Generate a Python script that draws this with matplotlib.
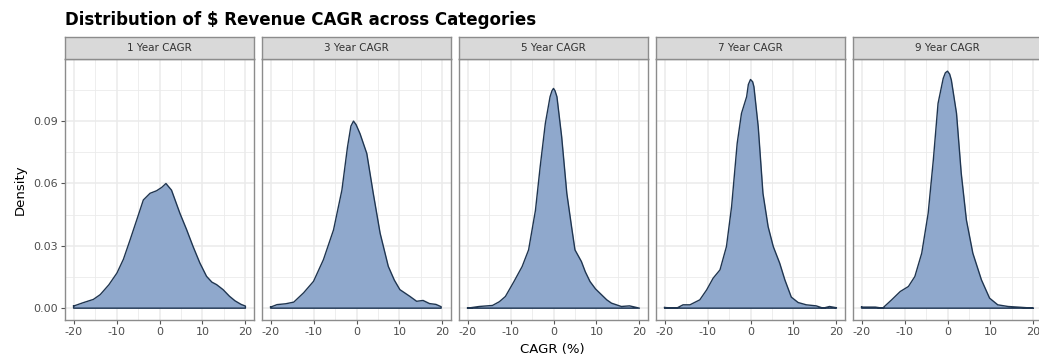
import numpy as np
import matplotlib.pyplot as plt

# facet titles
panels = ['1 Year CAGR', '3 Year CAGR', '5 Year CAGR', '7 Year CAGR', '9 Year CAGR']

# density curves (x = CAGR %, y = density)
x1 = [-20, -17.8, -15.4, -13.8, -11.8, -9.9, -8.4, -6.85, -5.3, -3.76, -2.2, -0.7, 0.5, 1.5, 2.8,
      4.75, 6.3, 7.8, 9.4, 10.95, 12.2, 13.3, 14.8, 16.3, 17.6, 19.0, 20]
y1 = [0.001, 0.0026, 0.0042, 0.0065, 0.0112, 0.0169, 0.0235, 0.0328, 0.0424, 0.052, 0.0552,
      0.0564, 0.058, 0.0599, 0.0567, 0.0456, 0.0378, 0.0297, 0.0217, 0.0153, 0.0125, 0.0113,
      0.0089, 0.0057, 0.0035, 0.0018, 0.001]

x3 = [-20, -18.5, -16.5, -14.6, -12.3, -10.0, -7.7, -5.35, -3.4, -2.1, -1.3, -0.7, -0.1, 0.83,
      2.4, 3.9, 5.5, 7.4, 8.8, 10.1, 12.4, 14.0, 15.5, 17.0, 18.5, 19.7]
y3 = [0.0005, 0.0017, 0.0021, 0.0029, 0.0074, 0.0129, 0.0233, 0.0376, 0.0567, 0.0774, 0.0875,
      0.0899, 0.0882, 0.0838, 0.0743, 0.0552, 0.036, 0.0201, 0.0135, 0.0089, 0.0057, 0.0033,
      0.0037, 0.0022, 0.0018, 0.0007]

x5 = [-20, -17.3, -14.2, -12.6, -11.2, -9.2, -7.3, -5.8, -4.2, -3.1, -1.9, -0.8, -0.35, 0, 0.35,
      0.8, 1.9, 3.1, 4.2, 5.0, 6.5, 7.4, 8.5, 9.8, 11.2, 12.4, 13.5, 15.8, 17.7, 20]
y5 = [0.0, 0.0008, 0.0013, 0.0031, 0.0056, 0.0128, 0.020, 0.028, 0.047, 0.068, 0.0888, 0.1016,
      0.1045, 0.1056, 0.1045, 0.1016, 0.0824, 0.0552, 0.0392, 0.028, 0.0224, 0.0175, 0.0128,
      0.0092, 0.0064, 0.004, 0.0024, 0.0008, 0.0011, 0.0]

x7 = [-20, -17.2, -15.7, -14.1, -11.8, -10.2, -8.7, -7.1, -5.6, -4.4, -3.1, -2.1, -0.9, -0.5, 0,
      0.5, 0.8, 1.8, 2.9, 4.1, 5.3, 6.8, 8.0, 9.5, 11.1, 13.0, 15.3, 16.9, 18.4, 20]
y7 = [0.0003, 0.0, 0.0016, 0.0016, 0.004, 0.0088, 0.0144, 0.0184, 0.0296, 0.0488, 0.0792, 0.0936,
      0.1016, 0.1075, 0.1099, 0.1088, 0.1064, 0.0872, 0.0552, 0.0392, 0.0296, 0.0216, 0.0136,
      0.0053, 0.0027, 0.0016, 0.0011, 0.0, 0.0008, 0.0002]

x9 = [-20, -16.8, -15.1, -13.0, -11.0, -9.1, -7.6, -6.0, -4.5, -3.3, -2.2, -1.0, -0.5, 0, 0.5,
      0.9, 2.1, 3.2, 4.4, 5.9, 7.9, 9.8, 11.7, 14.1, 16.4, 20]
y9 = [0.0005, 0.0005, 0.0, 0.004, 0.008, 0.0104, 0.0152, 0.0264, 0.0456, 0.0712, 0.0984, 0.1104,
      0.1131, 0.1139, 0.1125, 0.1096, 0.0936, 0.0648, 0.0424, 0.0264, 0.0136, 0.0048, 0.0016,
      0.0008, 0.0005, 0.0]

curves = [(x1, y1), (x3, y3), (x5, y5), (x7, y7), (x9, y9)]

W, H = 1039, 358
fig = plt.figure(figsize=(W / 100, H / 100), dpi=100)

fill_col = '#8FA8CC'
line_col = '#1F3550'
border_col = '#8C8C8C'
grid_col = '#EBEBEB'

ymax = max(max(c[1]) for c in curves)
ylim = (-0.05 * ymax, 1.05 * ymax)

left0, pw, gap = 65, 189, 8
top, bottom = 59.3, 320
strip_top = 37

for i, (name, (xs, ys)) in enumerate(zip(panels, curves)):
    left = left0 + i * (pw + gap)
    ax = fig.add_axes([left / W, 1 - bottom / H, pw / W, (bottom - top) / H])
    ax.set_xlim(-22, 22)
    ax.set_ylim(*ylim)
    ax.set_xticks([-20, -10, 0, 10, 20])
    ax.set_xticks([-15, -5, 5, 15], minor=True)
    ax.set_yticks([0, 0.03, 0.06, 0.09])
    ax.set_yticks([0.015, 0.045, 0.075, 0.105], minor=True)
    ax.grid(True, which='major', color=grid_col, lw=1.1)
    ax.grid(True, which='minor', color=grid_col, lw=0.6)
    ax.set_axisbelow(True)

    ax.fill_between(xs, ys, 0, color=fill_col, lw=0, zorder=2)
    # outline including the baseline, like geom_density
    ox = list(xs) + [xs[-1], xs[0], xs[0]]
    oy = list(ys) + [0, 0, ys[0]]
    ax.plot(ox, oy, color=line_col, lw=1.0, zorder=3, solid_joinstyle='round')

    for s in ax.spines.values():
        s.set_color(border_col)
        s.set_linewidth(1.0)
    ax.tick_params(which='major', length=3, color='#555555', labelsize=8, labelcolor='#4D4D4D', pad=2)
    ax.tick_params(which='minor', length=0)
    ax.set_xticklabels(['-20', '-10', '0', '10', '20'])
    if i == 0:
        ax.set_yticklabels(['0.00', '0.03', '0.06', '0.09'])
    else:
        ax.tick_params(axis='y', which='major', length=0, labelleft=False)

    # facet strip
    sax = fig.add_axes([left / W, 1 - top / H, pw / W, (top - strip_top) / H])
    sax.set_facecolor('#D9D9D9')
    sax.set_xticks([])
    sax.set_yticks([])
    for s in sax.spines.values():
        s.set_color(border_col)
        s.set_linewidth(1.0)
    sax.text(0.5, 0.5, name, ha='center', va='center', fontsize=7.5, color='#333333',
             transform=sax.transAxes)

fig.text(65 / W, 1 - 20 / H, 'Distribution of $ Revenue CAGR across Categories',
         fontsize=12, fontweight='bold', ha='left', va='center')
fig.text(552 / W, 1 - 349 / H, 'CAGR (%)', fontsize=9.5, ha='center', va='center')
fig.text(20 / W, 1 - 190 / H, 'Density', fontsize=9.5, ha='center', va='center', rotation=90)

fig.savefig('out.png', dpi=100)
